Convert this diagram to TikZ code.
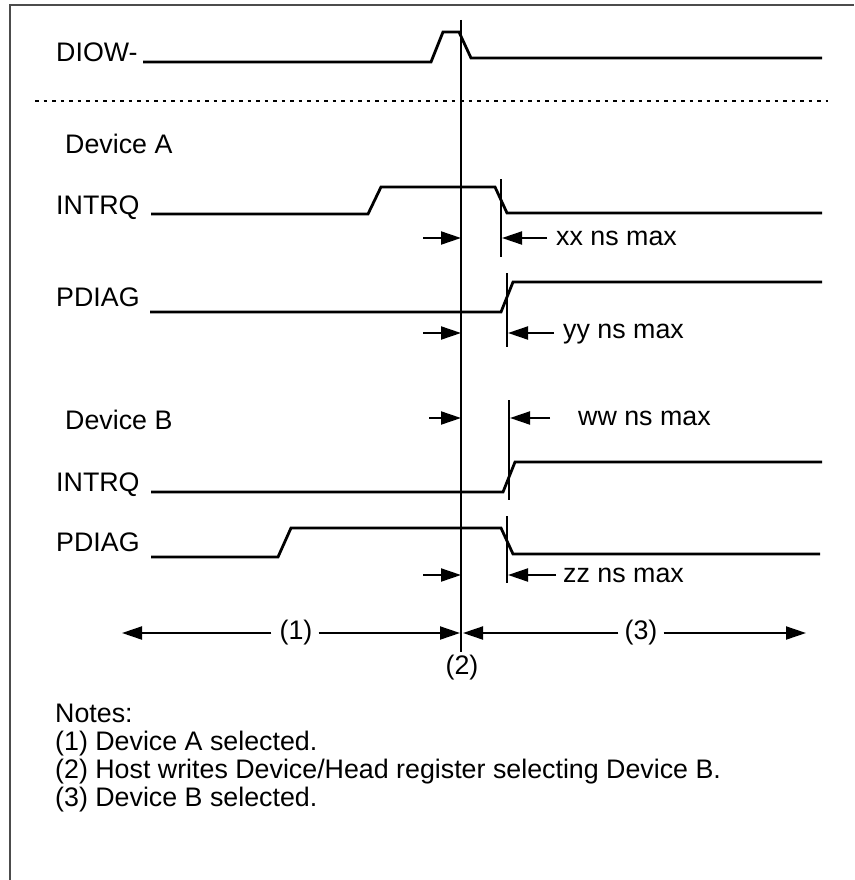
\documentclass[tikz,border=0pt]{standalone}
\usepackage{fontspec}
\setmainfont{Liberation Sans}
\usetikzlibrary{arrows.meta}
\tikzset{
  sig/.style={line width=2.8pt, line join=miter},
  mk/.style={line width=2.4pt},
  tm/.style={line width=2pt, -{Triangle[length=20pt,width=13pt]}},
  lbl/.style={anchor=base west, inner sep=0pt, font=\fontsize{26.8}{31}\selectfont},
  per/.style={inner sep=0pt, font=\fontsize{26.8}{31}\selectfont},
}
\begin{document}
\begin{tikzpicture}[x=1pt,y=-1pt]
\useasboundingbox (0,0) rectangle (854,880);
% frame
\draw[line width=1.5pt, black!70] (10,880) -- (10,5) -- (854,5);
% main vertical line
\coordinate (vtop) at (461,20);
\coordinate (vbot) at (461,652);
\draw[line width=2.8pt] (vtop) -- (vbot);
% DIOW-
\node[lbl] (diow) at (56,62) {DIOW-};
\draw[sig] (143,62) -- (431,62) -- (443,32) -- (459,32) -- (471,58) -- (822,58);
% dotted separator
\draw[line width=2.6pt, dash pattern=on 3.5pt off 5pt] (35,101) -- (828,101);
% Device A
\node[lbl] (deva) at (65,153) {Device A};
\node[lbl] (intrqa) at (56,214) {INTRQ};
\draw[sig] (151,214) -- (368,214) -- (381,187) -- (495,187) -- (507,213) -- (822,213);
\coordinate (xa) at (501,179); \coordinate (xb) at (501,257);
\draw[mk] (xa) -- (xb);
\draw[tm] (423,238) -- (461,238);
\draw[tm] (547,238) -- (502,238);
\node[lbl] (xx) at (556,245) {xx ns max};
\node[lbl] (pdiaga) at (56,306) {PDIAG};
\draw[sig] (150,312) -- (501,312) -- (513,282) -- (822,282);
\coordinate (ya) at (507,273); \coordinate (yb) at (507,347);
\draw[mk] (ya) -- (yb);
\draw[tm] (423,333) -- (461,333);
\draw[tm] (554,333) -- (508,333);
\node[lbl] (yy) at (563,338) {yy ns max};
% Device B
\node[lbl] (devb) at (65,429) {Device B};
\draw[tm] (429,418) -- (461,418);
\coordinate (wa) at (509,400); \coordinate (wb) at (509,500);
\draw[mk] (wa) -- (wb);
\draw[tm] (550,418) -- (510,418);
\node[lbl] (ww) at (578,425) {ww ns max};
\node[lbl] (intrqb) at (56,491) {INTRQ};
\draw[sig] (151,492) -- (503,492) -- (515,462) -- (822,462);
\node[lbl] (pdiagb) at (56,551) {PDIAG};
\draw[sig] (151,557) -- (278,557) -- (291,528) -- (501,528) -- (513,554) -- (820,554);
\coordinate (za) at (507,516); \coordinate (zb) at (507,583);
\draw[mk] (za) -- (zb);
\draw[tm] (423,575) -- (461,575);
\draw[tm] (556,575) -- (508,575);
\node[lbl] (zz) at (563,582) {zz ns max};
% bottom periods
\node[per] (p1) at (296,633) {(1)};
\node[per] (p3) at (641,633) {(3)};
\node[per] (p2) at (462,668) {(2)};
\draw[tm] ([xshift=-8pt]p1.west) -- (122,633);
\draw[tm] ([xshift=6pt]p1.east) -- (460,633);
\draw[tm] ([xshift=-6pt]p3.west) -- (463,633);
\draw[tm] ([xshift=6pt]p3.east) -- (806,633);
% notes
\node[lbl] (n0) at (55,722) {Notes:};
\node[lbl] (n1) at (55,750) {(1) Device A selected.};
\node[lbl] (n2) at (55,778) {(2) Host writes Device/Head register selecting Device B.};
\node[lbl] (n3) at (55,806) {(3) Device B selected.};
\end{tikzpicture}
\end{document}
